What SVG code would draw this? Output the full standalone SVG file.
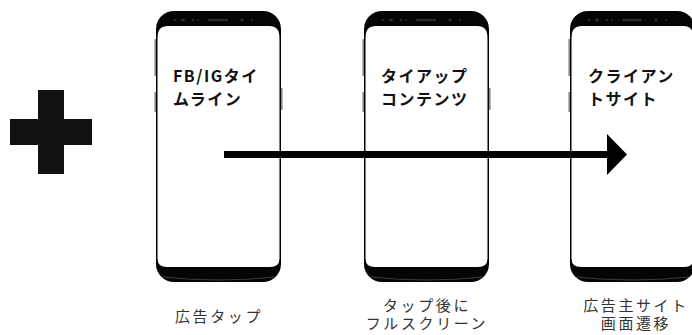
<svg xmlns="http://www.w3.org/2000/svg" width="692" height="335" viewBox="0 0 692 335">
  <style>
    .title { font-family: "Noto Sans CJK JP", "Noto Sans", sans-serif; font-weight: bold; font-size: 16px; letter-spacing: 1.5px; fill: #111; }
    .cap { font-family: "Noto Sans CJK JP", "Noto Sans", sans-serif; font-size: 15px; letter-spacing: 2.6px; fill: #333; text-anchor: middle; }
    .dot { fill: #2a2a2e; }
    .btn { fill: #8a8a8a; }
  </style>
  <defs>
    <g id="phone">
      <rect class="btn" x="-1.6" y="28" width="1.8" height="37"/>
      <rect class="btn" x="-1.6" y="81" width="1.8" height="20"/>
      <rect class="btn" x="124.8" y="77" width="1.8" height="22"/>
      <rect x="0" y="0" width="125" height="271" rx="18" fill="#050505"/>
      <path d="M6,266 Q62.5,272 119,266" stroke="#777" stroke-width="0.8" fill="none" opacity="0.6"/>
      <path d="M1.6,26 Q1.6,15 12,15 H113 Q123.4,15 123.4,26 V248 Q123.4,256 114,256 H11 Q1.6,256 1.6,248 Z" fill="#fff"/>
      <path d="M1.6,30 V248" stroke="#999" stroke-width="0.6" fill="none"/>
      <path d="M123.4,30 V248" stroke="#999" stroke-width="0.6" fill="none"/>
      <circle class="dot" cx="19" cy="9" r="1.2"/>
      <circle class="dot" cx="27" cy="9" r="1.8"/>
      <circle class="dot" cx="37" cy="9" r="1.3"/>
      <circle class="dot" cx="42" cy="9" r="1"/>
      <rect class="dot" x="52" y="7.8" width="20" height="2.4" rx="1.2"/>
      <circle class="dot" cx="86" cy="9" r="1.7"/>
      <circle class="dot" cx="96" cy="9" r="1"/>
    </g>
  </defs>

  <g id="plus">
    <rect x="38" y="90" width="26" height="84" fill="#111"/>
    <rect x="10" y="119" width="82" height="26" fill="#111"/>
  </g>

  <g id="node-timeline">
    <use href="#phone" x="156" y="11"/>
    <text class="title" x="173" y="82">FB/IGタイ</text>
    <text class="title" x="173" y="105">ムライン</text>
    <text class="cap" x="219" y="322">広告タップ</text>
  </g>

  <g id="node-tieup">
    <use href="#phone" x="364" y="11"/>
    <text class="title" x="381" y="82">タイアップ</text>
    <text class="title" x="381" y="105">コンテンツ</text>
    <text class="cap" x="427" y="311">タップ後に</text>
    <text class="cap" x="427" y="329">フルスクリーン</text>
  </g>

  <g id="node-client">
    <use href="#phone" x="570" y="11"/>
    <text class="title" x="588" y="82">クライアン</text>
    <text class="title" x="588" y="105">トサイト</text>
    <text class="cap" x="636" y="311">広告主サイト</text>
    <text class="cap" x="636" y="329">画面遷移</text>
  </g>

  <g id="connectors">
    <rect x="224" y="151" width="384" height="7" fill="#000"/>
    <polygon points="607,134 627,154.5 607,175" fill="#000"/>
  </g>
</svg>
